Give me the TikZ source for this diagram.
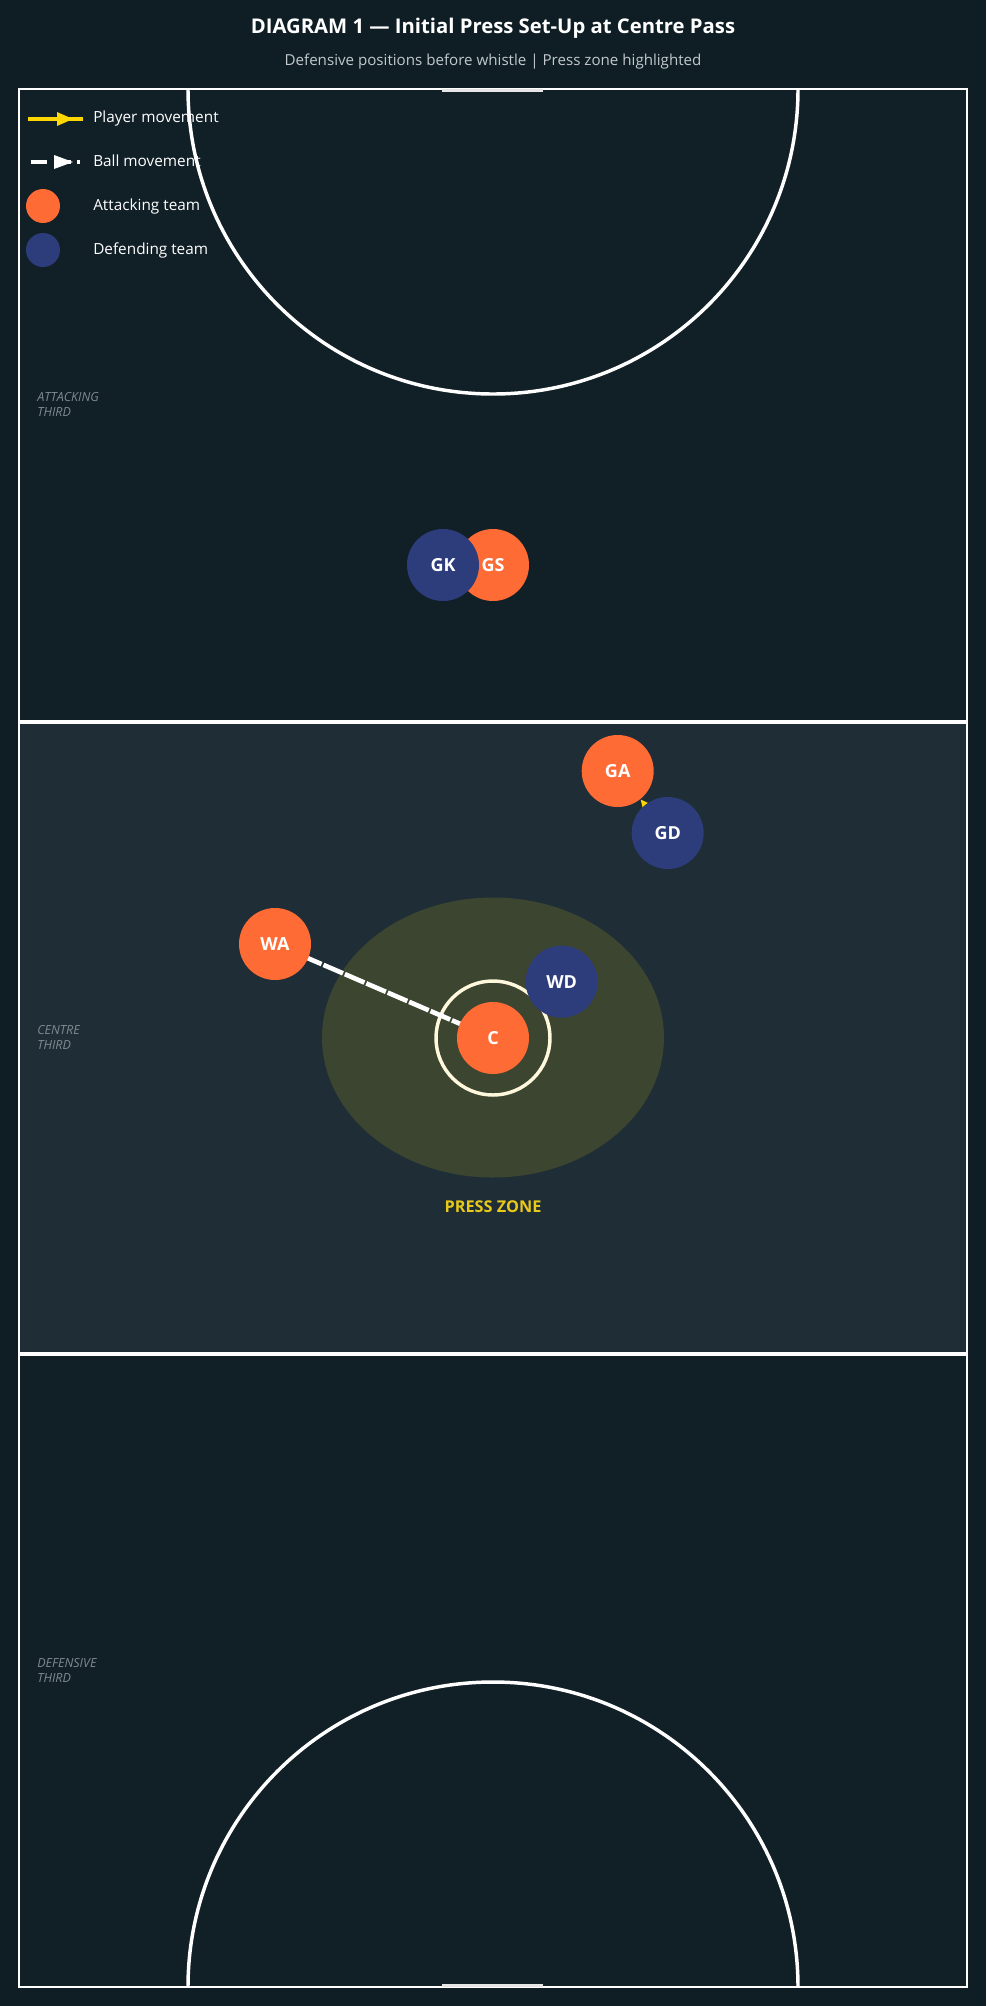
\documentclass[tikz,border=0pt]{standalone}
\usepackage{fontspec}
\setmainfont{Open Sans}
\usetikzlibrary{arrows.meta}
\pgfdeclarelayer{court}
\pgfdeclarelayer{links}
\pgfsetlayers{court,links,main}
\definecolor{bgcol}{HTML}{0F1E25}
\definecolor{thirdcol}{HTML}{111F27}
\definecolor{midcol}{HTML}{1F2D36}
\definecolor{zonecol}{HTML}{3C4530}
\definecolor{attcol}{HTML}{FF6B35}
\definecolor{defcol}{HTML}{2D3C7A}
\definecolor{movecol}{HTML}{FFD700}
\definecolor{zonetext}{HTML}{E8C81A}
\definecolor{labelgrey}{HTML}{7F8A90}
\definecolor{subgrey}{HTML}{C2C8CC}
\definecolor{ringcol}{HTML}{FFF8DC}
\definecolor{postcol}{HTML}{E6E6E6}
\begin{document}
\begin{tikzpicture}[x=0.75pt,y=-0.75pt,
  player/.style={circle, minimum size=54pt, inner sep=0pt, text=white,
    font=\bfseries\fontsize{13.5}{16}\selectfont},
  att/.style={player, fill=attcol},
  def/.style={player, fill=defcol},
  courtline/.style={draw=white, line width=2.6pt},
  thirdlabel/.style={anchor=west, inner sep=0pt, align=left, text=labelgrey,
    font=\itshape\fontsize{9.4}{11.25}\selectfont},
  legendtext/.style={anchor=base west, inner sep=0pt, text=white,
    font=\fontsize{11.5}{14}\selectfont},
  pmove/.style={draw=movecol, line width=3.5pt, -{Triangle[length=12pt,width=10.5pt]}},
  ballmove/.style={draw=white, line width=3.5pt, dash pattern=on 16pt off 1.5pt,
    -{Triangle[length=12pt,width=10.5pt]}}
]
\begin{pgfonlayer}{court}
% background and thirds
\fill[bgcol] (0,0) rectangle (986,2006);
\fill[thirdcol] (19,89) rectangle (967,721.7);
\fill[midcol] (19,721.7) rectangle (967,1354.3);
\fill[thirdcol] (19,1354.3) rectangle (967,1987);
% press zone
\fill[zonecol] (493,1037.5) ellipse [x radius=128.25pt, y radius=105pt];
% goal circles
\draw[courtline] (188,89) arc[start angle=180, end angle=360, radius=228.75pt];
\draw[courtline] (188,1987) arc[start angle=180, end angle=0, radius=228.75pt];
% transverse lines
\draw[white, line width=2.8pt] (19,721.7) -- (967,721.7);
\draw[white, line width=2.8pt] (19,1354.3) -- (967,1354.3);
% border
\draw[white, line width=1.5pt] (19,89) rectangle (967,1987);
% goal posts
\draw[postcol, line width=2.5pt] (442,90.5) -- (543,90.5);
\draw[postcol, line width=2.5pt] (442,1985.5) -- (543,1985.5);
% centre circle
\draw[ringcol, line width=2.6pt] (493,1038) circle[radius=42.75pt];
% title
\node[anchor=base, inner sep=0pt, text=white, font=\bfseries\fontsize{15.2}{18}\selectfont]
  (title) at (493,33) {DIAGRAM 1 — Initial Press Set-Up at Centre Pass};
\node[anchor=base, inner sep=0pt, text=subgrey, font=\fontsize{11.35}{14}\selectfont]
  (subtitle) at (493,65) {Defensive positions before whistle | Press zone highlighted};
% third labels
\node[thirdlabel] (lblatt) at (37,404) {ATTACKING\\THIRD};
\node[thirdlabel] (lblcen) at (37,1037) {CENTRE\\THIRD};
\node[thirdlabel] (lbldef) at (37,1670) {DEFENSIVE\\THIRD};
% press zone label
\node[anchor=base, inner sep=0pt, text=zonetext, font=\bfseries\fontsize{12.2}{14}\selectfont]
  (zonelbl) at (493,1212) {PRESS ZONE};
% legend
\draw[movecol, line width=3.5pt] (28,119) -- (83,119);
\fill[movecol] (57,112) -- (73,119) -- (57,126) -- cycle;
\node[legendtext] (legplayer) at (93,122.7) {Player movement};
\draw[white, line width=3.5pt, dash pattern=on 12.5pt off 5pt] (30.7,162) -- (80,162);
\fill[white] (54,155) -- (73,162) -- (54,169) -- cycle;
\node[legendtext] (legball) at (93,166.5) {Ball movement};
\fill[attcol] (43,206) circle[radius=12.75pt];
\node[legendtext] (legatt) at (93,210.5) {Attacking team};
\fill[defcol] (43,250) circle[radius=12.75pt];
\node[legendtext] (legdef) at (93,254) {Defending team};
\end{pgfonlayer}
% players
\node[att] (GS) at (493,565) {GS};
\node[def] (GK) at (443,565) {GK};
\node[att] (GA) at (617.7,771) {GA};
\node[def] (GD) at (667.7,833) {GD};
\node[att] (WA) at (275,944) {WA};
\node[att] (C) at (493,1038) {C};
\node[def] (WD) at (561.7,981.7) {WD};
% movements
\begin{pgfonlayer}{links}
\draw[ballmove] (C.center) -- (WA.center);
\draw[pmove] (GD) -- (GA);
\end{pgfonlayer}
\end{tikzpicture}
\end{document}
